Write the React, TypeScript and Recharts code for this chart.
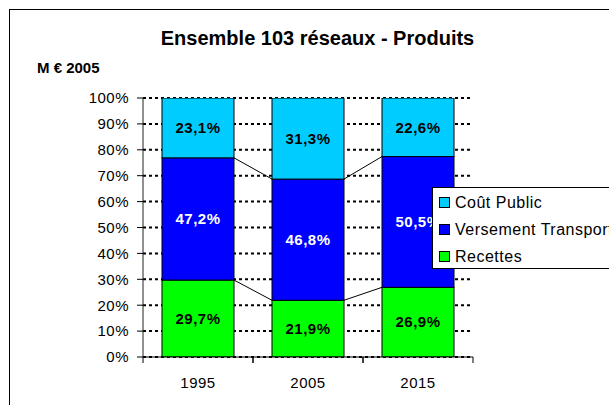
import React from 'react';
import { BarChart, Bar, XAxis, YAxis, CartesianGrid, LabelList } from 'recharts';

const years = ['1995', '2005', '2015'];
const recettes = [29.7, 21.9, 26.9];
const versement = [47.2, 46.8, 50.5];
const coutPublic = [23.1, 31.3, 22.6];
const yTicks = [0, 10, 20, 30, 40, 50, 60, 70, 80, 90, 100];

const SERIES = [
  { key: 'recettes', name: 'Recettes', color: '#00FF00', label: '#000' },
  { key: 'versement', name: 'Versement Transport', color: '#0000FF', label: '#fff' },
  { key: 'coutPublic', name: 'Coût Public', color: '#00CCFF', label: '#000' },
];

const data = years.map((y, i) => ({
  year: y,
  recettes: recettes[i],
  versement: versement[i],
  coutPublic: coutPublic[i],
}));

// cumul jusqu'à la série s (incluse) pour la catégorie i
const cumTop = (s: number, i: number) =>
  SERIES.slice(0, s + 1).reduce((acc, ser) => acc + (data[i] as any)[ser.key], 0);

const GAP = 19;
const FONT = '"Liberation Sans", Arial, sans-serif';

const fmt = (v: any) => `${Number(v).toFixed(1).replace('.', ',')}%`;

// barre + ligne de liaison (series lines façon Excel) vers la barre suivante
const makeShape = (s: number) => (props: any) => {
  const { x, y, width, height, index } = props;
  const low = cumTop(s, index) - (data[index] as any)[SERIES[s].key];
  const high = cumTop(s, index);
  const perUnit = height / (high - low);
  const pix = (v: number) => y + height - (v - low) * perUnit;
  const next = index + 1 < data.length ? cumTop(s, index + 1) : null;
  return (
    <g>
      <rect x={x} y={y} width={width} height={height} fill={SERIES[s].color} stroke="#000" strokeWidth={1} />
      {next !== null && s < SERIES.length - 1 && (
        <line x1={x + width} y1={y} x2={x + width + 2 * GAP} y2={pix(next)} stroke="#000" strokeWidth={1} />
      )}
    </g>
  );
};

const XTick = (props: any) => {
  const { x, y, payload } = props;
  const half = payload?.offset ?? 55;
  return (
    <g>
      <line x1={x - half} y1={y} x2={x - half} y2={y + 6} stroke="#000" />
      <line x1={x + half} y1={y} x2={x + half} y2={y + 6} stroke="#000" />
      <text x={x} y={y + 31} textAnchor="middle" fontSize={15} letterSpacing={0.5} fill="#000" fontFamily={FONT}>
        {payload.value}
      </text>
    </g>
  );
};

const LegendBox = () => (
  <div
    style={{
      position: 'absolute',
      left: 432,
      top: 187,
      border: '1px solid #000',
      background: '#fff',
      width: 230,
      height: 82,
      boxSizing: 'border-box',
      paddingTop: 1,
      fontSize: 16,
      letterSpacing: 0.5,
      color: '#000',
    }}
  >
    {[...SERIES].reverse().map((s) => (
      <div key={s.key} style={{ display: 'flex', alignItems: 'center', height: 27, paddingLeft: 6, whiteSpace: 'nowrap' }}>
        <span
          style={{
            display: 'inline-block',
            width: 9,
            height: 9,
            background: s.color,
            border: '1px solid #000',
            marginRight: 5,
          }}
        />
        {s.name}
      </div>
    ))}
  </div>
);

export default function App() {
  return (
    <div style={{ position: 'fixed', left: 0, top: 0, width: 609, height: 405, overflow: 'hidden', background: '#fff', fontFamily: FONT }}>
      <div
        style={{
          position: 'absolute',
          left: 9,
          top: 9,
          width: 700,
          height: 500,
          borderLeft: '1px solid #000',
          borderTop: '1px solid #000',
        }}
      />
      <div style={{ position: 'absolute', left: 0, width: 635, top: 28, lineHeight: '20px', textAlign: 'center', fontWeight: 'bold', fontSize: 20 }}>
        Ensemble 103 réseaux - Produits
      </div>
      <div style={{ position: 'absolute', left: 37, top: 60, lineHeight: '15px', fontWeight: 'bold', fontSize: 15 }}>M € 2005</div>
      <div style={{ position: 'absolute', left: 0, top: 0 }}>
        <BarChart
          width={609}
          height={405}
          data={data}
          margin={{ top: 98, right: 136, bottom: 0, left: 0 }}
          barCategoryGap={GAP}
        >
          <CartesianGrid vertical={false} stroke="#000" strokeWidth={2} strokeDasharray="3 3" />
          <XAxis
            dataKey="year"
            height={48}
            tick={<XTick />}
            tickLine={false}
            tickSize={0}
            tickMargin={0}
            axisLine={{ stroke: '#000' }}
            interval={0}
          />
          <YAxis
            type="number"
            domain={[0, 100]}
            ticks={yTicks}
            interval={0}
            width={143}
            tickSize={6}
            tickMargin={8}
            tickFormatter={(v) => `${v}%`}
            tick={{ fontSize: 15, fill: '#000', fontFamily: FONT, letterSpacing: 0.5 }}
            axisLine={{ stroke: '#222' }}
            tickLine={{ stroke: '#000' }}
            allowDataOverflow
          />
          {/* bordure droite de la zone de tracé */}
          <YAxis
            yAxisId="border"
            orientation="right"
            width={0}
            domain={[0, 100]}
            tick={false}
            tickLine={false}
            axisLine={{ stroke: '#999' }}
          />
          {SERIES.map((s, i) => (
            <Bar
              key={s.key}
              dataKey={s.key}
              name={s.name}
              stackId="a"
              fill={s.color}
              shape={makeShape(i)}
              isAnimationActive={false}
            >
              <LabelList
                dataKey={s.key}
                position="center"
                formatter={fmt}
                fill={s.label}
                fontSize={15}
                fontWeight="bold"
                letterSpacing={0.5}
                fontFamily={FONT}
              />
            </Bar>
          ))}
        </BarChart>
      </div>
      <LegendBox />
    </div>
  );
}
